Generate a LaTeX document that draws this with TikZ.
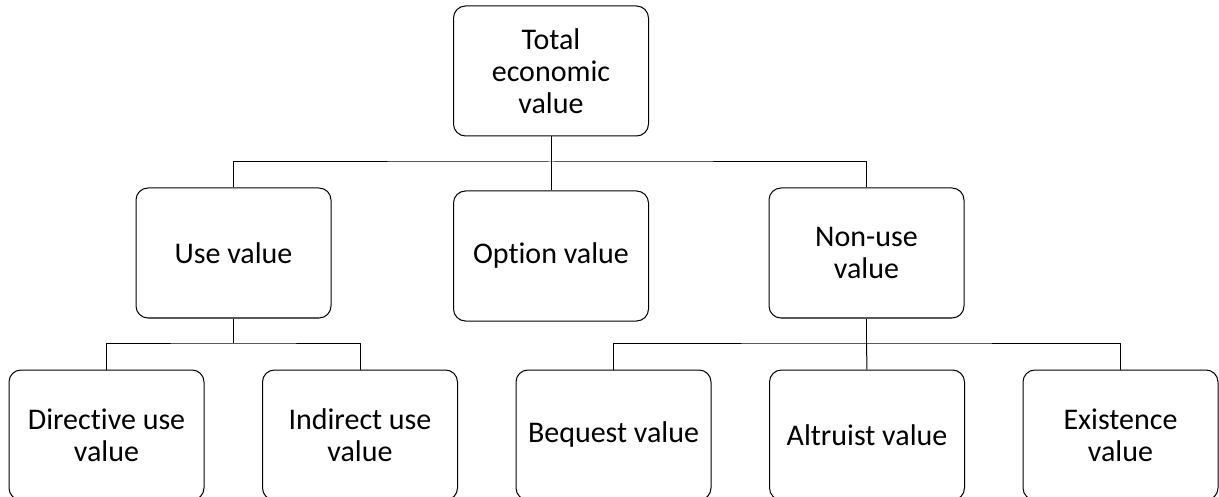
\documentclass[tikz,border=0pt]{standalone}
\usepackage{fontspec}
\setmainfont[Ligatures={NoCommon}]{Carlito}
\begin{document}
\begin{tikzpicture}[x=1pt,y=-1pt,
  valuebox/.style={draw=black, line width=1pt, rounded corners=12pt,
    minimum width=195pt, minimum height=130pt, inner sep=0pt,
    align=center, font=\fontsize{30}{31.8}\selectfont},
  link/.style={draw=black, line width=1pt}]
\useasboundingbox (0,0) rectangle (1219,497);
\clip (0,0) rectangle (1219,497);

% root
\node[valuebox] (tev) at (551,71) {Total\\economic\\value};

% second level
\node[valuebox] (use)    at (233.5,253) {Use value};
\node[valuebox] (option) at (551,256)   {Option value};
\node[valuebox] (nonuse) at (866.5,253) {Non-use\\value};

% third level
\node[valuebox] (direct)    at (106.5,435) {Directive use\\value};
\node[valuebox] (indirect)  at (360,435)   {Indirect use\\value};
\node[valuebox] (bequest)   at (613.5,435) {Bequest value};
\node[valuebox] (altruist)  at (867,435)   {Altruist value};
\node[valuebox] (existence) at (1120.5,435) {Existence\\value};

% junction points of the buses
\coordinate (busA) at (551,162);
\coordinate (busB) at (233.5,343);
\coordinate (busC) at (866.5,343);

% root to second level
\draw[link] (tev.south) -- (busA);
\draw[link] (use.north) |- (busA) -| (nonuse.north);
\draw[link] (busA) -- (option.north);

% use value branches
\draw[link] (use.south) -- (busB);
\draw[link] (direct.north) |- (busB) -| (indirect.north);

% non-use value branches
\draw[link] (nonuse.south) -- (busC);
\draw[link] (bequest.north) |- (busC) -| (existence.north);
\draw[link] (busC) -- (altruist.north);
\end{tikzpicture}
\end{document}
